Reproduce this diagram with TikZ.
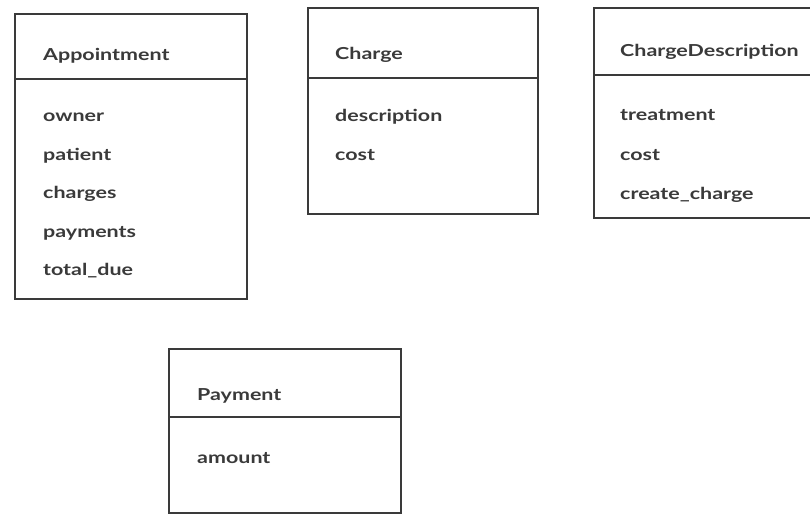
\documentclass[tikz,border=0pt]{standalone}
\usepackage{fontspec}
\setmainfont[FakeStretch=1.3]{Lato}
\definecolor{ink}{HTML}{3A3A3A}
\begin{document}
\begin{tikzpicture}[x=1pt,y=-1pt,
  classbox/.style={draw=ink, line width=2.4pt, rectangle, inner sep=0pt, anchor=north west},
  divider/.style={draw=ink, line width=2.2pt},
  label/.style={anchor=base west, inner sep=0pt, text=ink, font=\fontsize{16.5}{19}\selectfont\bfseries}]
\useasboundingbox (0,0) rectangle (810,514);
\clip (0,0) rectangle (810,514);

% Appointment
\node[classbox, minimum width=232pt, minimum height=285pt] (appt) at (14,13) {};
\coordinate (apptL) at (14,79);
\coordinate (apptR) at (246,79);
\draw[divider] (apptL) -- (apptR);
\node[label] (apptT) at (43,60) {Appointment};
\node[label] (appt1) at (43,121) {owner};
\node[label] (appt2) at (43,160) {patient};
\node[label] (appt3) at (43,198) {charges};
\node[label] (appt4) at (43,237) {payments};
\node[label] (appt5) at (43,275) {total\_due};

% Charge
\node[classbox, minimum width=230pt, minimum height=206pt] (chg) at (307,7) {};
\coordinate (chgL) at (307,78);
\coordinate (chgR) at (537,78);
\draw[divider] (chgL) -- (chgR);
\node[label] (chgT) at (335,59) {Charge};
\node[label] (chg1) at (335,121) {description};
\node[label] (chg2) at (335,160) {cost};

% ChargeDescription
\node[classbox, minimum width=240pt, minimum height=210pt] (cd) at (593,7) {};
\coordinate (cdL) at (593,75);
\coordinate (cdR) at (833,75);
\draw[divider] (cdL) -- (cdR);
\node[label] (cdT) at (620,56) {ChargeDescription};
\node[label] (cd1) at (620,120) {treatment};
\node[label] (cd2) at (620,160) {cost};
\node[label] (cd3) at (620,199) {create\_charge};

% Payment
\node[classbox, minimum width=232pt, minimum height=164pt] (pay) at (168,348) {};
\coordinate (payL) at (168,417);
\coordinate (payR) at (400,417);
\draw[divider] (payL) -- (payR);
\node[label] (payT) at (197,400) {Payment};
\node[label] (pay1) at (197,463) {amount};
\end{tikzpicture}
\end{document}
